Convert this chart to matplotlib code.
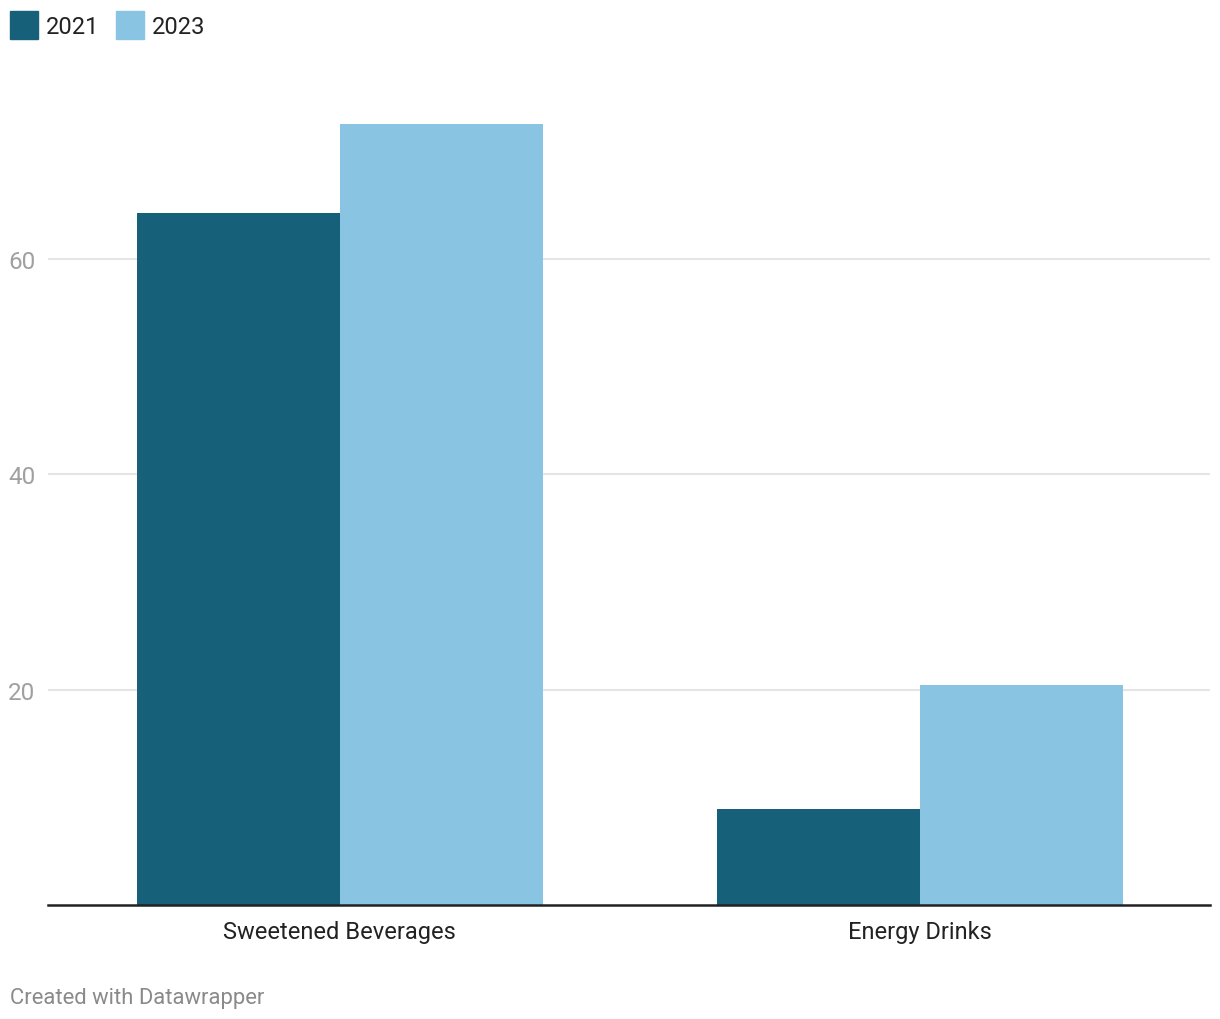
import matplotlib.pyplot as plt
import matplotlib.patches as mpatches
import numpy as np

plt.rcParams['font.family'] = ['Roboto', 'DejaVu Sans']

# data
categories = ['Sweetened Beverages', 'Energy Drinks']
values_2021 = [64.3, 8.9]
values_2023 = [72.5, 20.4]
series_names = ['2021', '2023']
y_ticks = [20, 40, 60]

dark = '#17607a'
light = '#89c4e2'

fig = plt.figure(figsize=(12.2, 10.2), dpi=100)
ax = fig.add_axes([48 / 1220, (1020 - 906) / 1020, (1210 - 48) / 1220, (906 - 111) / 1020])

x = np.arange(len(categories))
w = 0.35
ax.bar(x - w / 2, values_2021, w, color=dark, zorder=3)
ax.bar(x + w / 2, values_2023, w, color=light, zorder=3)

ax.set_xlim(-0.503, 1.5)
ax.set_ylim(0, 73.84)
ax.set_xticks(x)
ax.set_xticklabels(categories, fontsize=17, color='#222222')
ax.set_yticks(y_ticks)
ax.set_yticklabels([str(t) for t in y_ticks], fontsize=17.5, color='#a0a0a0')
ax.tick_params(axis='x', length=0, pad=10.5)
ax.tick_params(axis='y', length=0, pad=9)
ax.grid(axis='y', color='#e5e5e5', linewidth=1.5, zorder=0)
for s in ['top', 'right', 'left']:
    ax.spines[s].set_visible(False)
ax.spines['bottom'].set_color('#222222')
ax.spines['bottom'].set_linewidth(1.8)
ax.spines['bottom'].set_zorder(4)

# legend
for px, col, name in [(10, dark, series_names[0]), (116, light, series_names[1])]:
    fig.patches.append(mpatches.Rectangle((px / 1220, (1020 - 40) / 1020), 28 / 1220, 28 / 1020,
                                          transform=fig.transFigure, color=col))
    fig.text((px + 36) / 1220, (1020 - 28) / 1020, name, fontsize=17, color='#222222', va='center')

fig.text(10 / 1220, (1020 - 999) / 1020, 'Created with Datawrapper', fontsize=15.8, color='#8a8a8a', va='center')

fig.savefig('out.png', dpi=100)
